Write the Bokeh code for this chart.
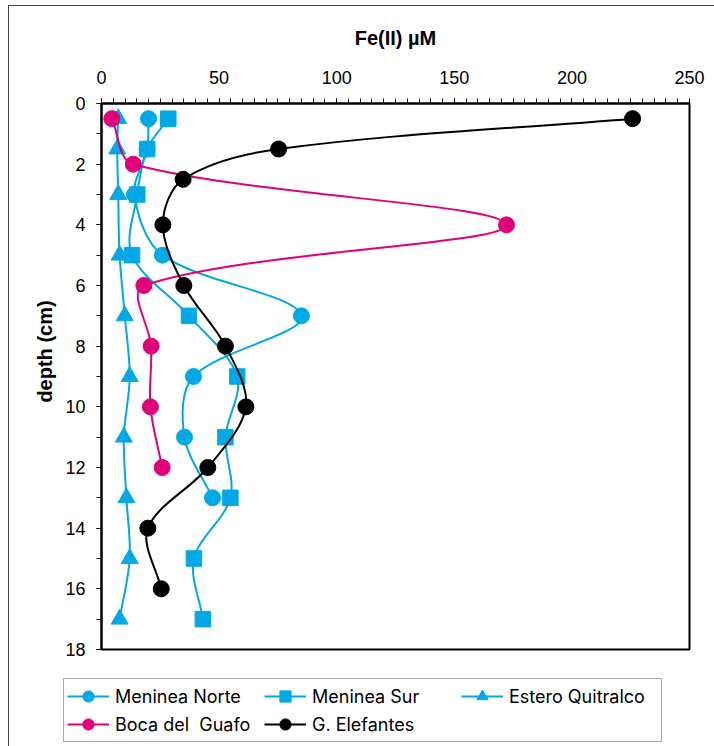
import numpy as np
from bokeh.plotting import figure
from bokeh.layouts import column
from bokeh.models import Range1d, SingleIntervalTicker, Legend, LegendItem
from bokeh.embed import file_html
from bokeh.resources import INLINE

# ---- data ----
depth_mn = [0.5, 1.5, 3, 5, 7, 9, 11, 13]
fe_mn = [20.0, 19.4, 14.0, 25.9, 85.0, 39.1, 35.3, 47.2]

depth_ms = [0.5, 1.5, 3, 5, 7, 9, 11, 13, 15, 17]
fe_ms = [28.4, 19.4, 15.2, 13.0, 37.2, 57.7, 52.7, 54.8, 39.3, 43.1]

depth_eq = [0.5, 1.5, 3, 5, 7, 9, 11, 13, 15, 17]
fe_eq = [7.1, 6.7, 7.1, 7.7, 9.9, 12.0, 9.5, 10.6, 12.0, 7.7]

depth_bg = [0.5, 2, 4, 6, 8, 10, 12]
fe_bg = [4.4, 13.5, 172.2, 18.0, 21.1, 20.8, 25.8]

depth_ge = [0.5, 1.5, 2.5, 4, 6, 8, 10, 12, 14, 16]
fe_ge = [225.8, 75.3, 34.7, 26.1, 35.0, 52.7, 61.4, 45.2, 19.7, 25.4]

series_names = ["Meninea Norte", "Meninea Sur", "Estero Quitralco",
                "Boca del  Guafo", "G. Elefantes"]

CYAN = "#00A9E6"
PINK = "#E2007A"
BLACK = "#000000"

W, H = 714, 746
H1 = 675                                      # main figure height
FL, FR, FT, FB = 101, 689, 103, 649           # frame edges in page pixels
X0, X1, Y0, Y1 = 0, 250, 0, 18                # axis ranges
SX = (FR - FL) / (X1 - X0)                    # px per x unit (smoothing metric)
SY = (FB - FT) / (Y1 - Y0)                    # px per y unit


def smooth_segments(xs, ys):
    """Bezier control points of a smoothed line (chord-length weighted tangents)."""
    x = np.asarray(xs, float)
    y = np.asarray(ys, float)
    n = len(x)
    d = np.hypot(np.diff(x) * SX, np.diff(y) * SY)
    tx = np.zeros(n); ty = np.zeros(n)
    tx[1:-1] = x[2:] - x[:-2]; ty[1:-1] = y[2:] - y[:-2]
    seg = dict(x0=[], y0=[], x1=[], y1=[], cx0=[], cy0=[], cx1=[], cy1=[])
    for i in range(n - 1):
        a, b = i, i + 1
        if a == 0:
            c0x = x[a] + (x[b] - x[a]) / 3.0
            c0y = y[a] + (y[b] - y[a]) / 3.0
        else:
            f = d[i] / (d[i - 1] + d[i]) / 3.0
            c0x = x[a] + tx[a] * f
            c0y = y[a] + ty[a] * f
        if b == n - 1:
            c1x = x[b] - (x[b] - x[a]) / 3.0
            c1y = y[b] - (y[b] - y[a]) / 3.0
        else:
            f = d[i] / (d[i] + d[i + 1]) / 3.0
            c1x = x[b] - tx[b] * f
            c1y = y[b] - ty[b] * f
        seg["x0"].append(x[a]); seg["y0"].append(y[a])
        seg["x1"].append(x[b]); seg["y1"].append(y[b])
        seg["cx0"].append(c0x); seg["cy0"].append(c0y)
        seg["cx1"].append(c1x); seg["cy1"].append(c1y)
    return seg


p = figure(width=W, height=H1, output_backend="svg", toolbar_location=None,
           x_axis_location="above",
           x_range=Range1d(X0, X1), y_range=Range1d(Y1, Y0),
           min_border_left=FL, min_border_right=W - FR,
           min_border_top=FT, min_border_bottom=H1 - FB,
           background_fill_color="white", border_fill_color=None)
p.frame_align = False

p.grid.visible = False
p.outline_line_color = "black"
p.outline_line_width = 2
p.outline_line_alpha = 1

xa = p.xaxis[0]
xa.ticker = SingleIntervalTicker(interval=50, num_minor_ticks=10)
ya = p.yaxis[0]
ya.ticker = SingleIntervalTicker(interval=2, num_minor_ticks=2)

for ax in (xa, ya):
    ax.axis_line_width = 2
    ax.axis_line_color = "black"
    ax.major_tick_line_color = "black"
    ax.minor_tick_line_color = "black"
    ax.major_tick_line_width = 1
    ax.minor_tick_line_width = 1
    ax.major_tick_in = 0
    ax.major_tick_out = 5
    ax.minor_tick_in = 0
    ax.minor_tick_out = 5
    ax.major_label_text_font = "Liberation Sans"
    ax.major_label_text_font_size = "18px"
    ax.major_label_text_color = "black"
    ax.axis_label_text_font = "Liberation Sans"
    ax.axis_label_text_font_size = "20px"
    ax.axis_label_text_font_style = "bold"
    ax.axis_label_text_color = "black"

xa.major_label_standoff = 15
xa.axis_label = "Fe(II) µM"
xa.axis_label_standoff = 19

ya.major_label_standoff = 11
# leading no-break spaces shift the centred label upward, as in the reference
ya.axis_label = "\u00a0" * 9 + "depth (cm)"
ya.axis_label_standoff = 6

specs = [
    (fe_mn, depth_mn, CYAN, "circle", 16),
    (fe_ms, depth_ms, CYAN, "square", 15.5),
    (fe_eq, depth_eq, CYAN, "triangle", 17),
    (fe_bg, depth_bg, PINK, "circle", 16),
    (fe_ge, depth_ge, BLACK, "circle", 16),
]

# legend strip: a separate figure below the chart, without axes; its ranges
# lie outside the data so only the legend keys are visible
p2 = figure(width=W, height=H - H1, output_backend="svg", toolbar_location=None,
            x_range=Range1d(-1000, -999), y_range=Range1d(-1000, -999),
            x_axis_type=None, y_axis_type=None,
            min_border_left=0, min_border_right=0,
            min_border_top=0, min_border_bottom=0,
            background_fill_color=None, border_fill_color=None)
p2.frame_align = False
p2.grid.visible = False
p2.outline_line_color = None

items = []
for (xs, ys, col, mk, sz), name in zip(specs, series_names):
    seg = smooth_segments(xs, ys)
    p.bezier(x0=seg["x0"], y0=seg["y0"], x1=seg["x1"], y1=seg["y1"],
             cx0=seg["cx0"], cy0=seg["cy0"], cx1=seg["cx1"], cy1=seg["cy1"],
             line_color=col, line_width=2, line_cap="round")
    p.scatter(xs, ys, marker=mk, size=sz, fill_color=col, line_color=col,
              line_width=1)
    lr = p2.line(x=xs, y=ys, line_color=col, line_width=2)
    sr = p2.scatter(x=xs, y=ys, marker=mk, size=sz, fill_color=col,
                    line_color=col, line_width=1)
    items.append(LegendItem(label=name, renderers=[lr, sr]))

legend = Legend(items=items, location=(63, 4), orientation="horizontal",
                ncols=3,
                glyph_width=42, glyph_height=28, label_standoff=6,
                label_width=149, label_height=28,
                padding=3, spacing=0, margin=0,
                label_text_font="Inter", label_text_font_size="18px",
                label_text_color="black", label_text_baseline="middle",
                border_line_color="#555555", border_line_width=1,
                background_fill_color="white", background_fill_alpha=1)
p2.add_layout(legend, "center")

page = column(p, p2, spacing=0)
page.styles = {"box-shadow": "inset 8px 5px 0 0 #ffffff, inset 9px 6px 0 0 #444444"}

open("out.html", "w").write(file_html(page, INLINE))
